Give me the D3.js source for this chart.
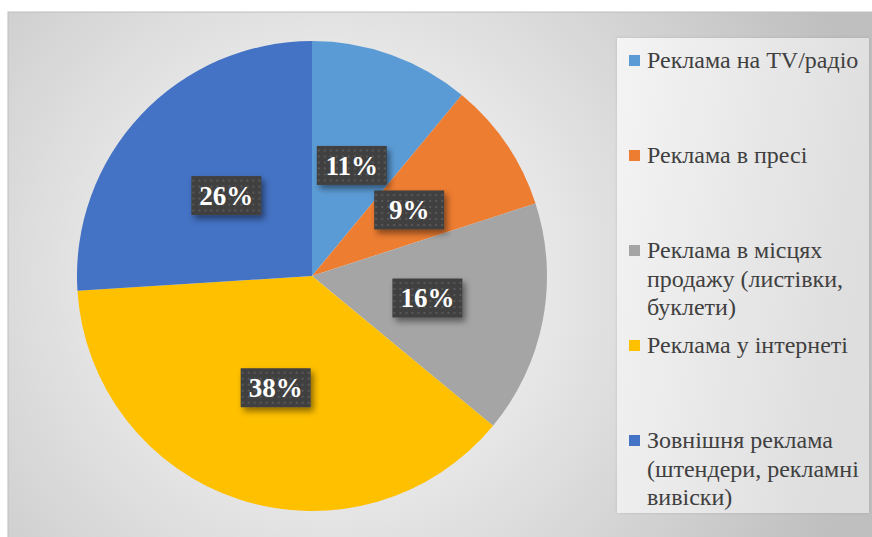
<!DOCTYPE html>
<html>
<head>
<meta charset="utf-8">
<script src="https://cdn.jsdelivr.net/npm/d3@7"></script>
<style>
  html, body { margin: 0; padding: 0; background: #fff; }
  svg { display: block; }
  .serif { font-family: "Liberation Serif", "Times New Roman", serif; }
</style>
</head>
<body>
<svg id="chart" width="872" height="537"></svg>
<script>
// Advertising channel shares (%)
const categories = [
  "Реклама на TV/радіо",
  "Реклама в пресі",
  "Реклама в місцях продажу (листівки, буклети)",
  "Реклама у інтернеті",
  "Зовнішня реклама (штендери, рекламні вивіски)"
];
const shares = [11, 9, 16, 38, 26];
const legendLines = [
  ["Реклама на TV/радіо"],
  ["Реклама в пресі"],
  ["Реклама в місцях", "продажу (листівки,", "буклети)"],
  ["Реклама у інтернеті"],
  ["Зовнішня реклама", "(штендери, рекламні", "вивіски)"]
];
const colors = ["#5B9BD5", "#ED7D31", "#A5A5A5", "#FFC000", "#4472C4"];

const svg = d3.select("#chart");
const defs = svg.append("defs");

// Chart area background: soft radial fade
const bg = defs.append("radialGradient").attr("id", "bgGrad")
  .attr("gradientUnits", "userSpaceOnUse")
  .attr("cx", 330).attr("cy", 276).attr("r", 560);
bg.append("stop").attr("offset", "0").attr("stop-color", "#ffffff");
bg.append("stop").attr("offset", "0.45").attr("stop-color", "#e3e3e3");
bg.append("stop").attr("offset", "1").attr("stop-color", "#bfbfbf");

const lg = defs.append("linearGradient").attr("id", "legGrad")
  .attr("x1", 0).attr("y1", 0).attr("x2", 1).attr("y2", 0.3);
lg.append("stop").attr("offset", "0").attr("stop-color", "#f4f4f4");
lg.append("stop").attr("offset", "1").attr("stop-color", "#dedede");

// Dotted texture for the data label boxes
const pat = defs.append("pattern").attr("id", "dots")
  .attr("patternUnits", "userSpaceOnUse").attr("width", 6).attr("height", 6);
pat.append("rect").attr("width", 6).attr("height", 6).attr("fill", "#404040");
pat.append("rect").attr("x", 2).attr("y", 2).attr("width", 2).attr("height", 2).attr("fill", "#585858");

const shadow = defs.append("filter").attr("id", "shadow")
  .attr("x", "-30%").attr("y", "-30%").attr("width", "160%").attr("height", "180%");
shadow.append("feDropShadow").attr("dx", 3).attr("dy", 4).attr("stdDeviation", 3)
  .attr("flood-color", "#000").attr("flood-opacity", 0.45);

const legShadow = defs.append("filter").attr("id", "legShadow")
  .attr("x", "-10%").attr("y", "-10%").attr("width", "120%").attr("height", "120%");
legShadow.append("feDropShadow").attr("dx", 0).attr("dy", 0).attr("stdDeviation", 1.5)
  .attr("flood-color", "#000").attr("flood-opacity", 0.12);

// Frame
svg.append("rect").attr("x", 8).attr("y", 12).attr("width", 880).attr("height", 540)
  .attr("fill", "url(#bgGrad)").attr("stroke", "#bdbdbd").attr("stroke-width", 1);

// Pie
const cx = 312, cy = 276, R = 235;
const pie = d3.pie().sort(null).value(d => d)(shares);
const arc = d3.arc().innerRadius(0).outerRadius(R);
const labelArc = d3.arc().innerRadius(R * 0.5).outerRadius(R * 0.5);

const g = svg.append("g").attr("transform", `translate(${cx},${cy})`);
g.selectAll("path.slice").data(pie).join("path")
  .attr("class", "slice")
  .attr("d", arc)
  .attr("fill", (d, i) => colors[i]);

// Data labels
const bw = 70, bh = 39;
const lbl = g.selectAll("g.lbl").data(pie).join("g")
  .attr("class", "lbl")
  .attr("transform", d => { const [x, y] = labelArc.centroid(d); return `translate(${x},${y})`; });
lbl.append("rect")
  .attr("x", -bw / 2).attr("y", -bh / 2).attr("width", bw).attr("height", bh)
  .attr("fill", "url(#dots)").attr("filter", "url(#shadow)");
lbl.append("text")
  .attr("class", "serif")
  .attr("text-anchor", "middle").attr("dy", "0.35em")
  .attr("font-weight", "bold").attr("font-size", 27).attr("fill", "#ffffff")
  .text(d => d.data + "%");

// Legend
svg.append("rect").attr("x", 617).attr("y", 38).attr("width", 252).attr("height", 475)
  .attr("fill", "url(#legGrad)").attr("filter", "url(#legShadow)");

const legendY = [68, 163, 258, 353, 448];
const lineH = 28.5;
const leg = svg.append("g").selectAll("g").data(categories).join("g")
  .attr("transform", (d, i) => `translate(629,${legendY[i]})`);
leg.append("rect").attr("x", 0).attr("y", -13).attr("width", 11).attr("height", 11)
  .attr("fill", (d, i) => colors[i]);
leg.append("text")
  .attr("class", "serif")
  .attr("x", 18)
  .attr("font-size", 24).attr("fill", "#404040")
  .selectAll("tspan").data((d, i) => legendLines[i]).join("tspan")
  .attr("x", 18).attr("dy", (d, j) => j === 0 ? 0 : lineH)
  .text(d => d);
</script>
</body>
</html>
